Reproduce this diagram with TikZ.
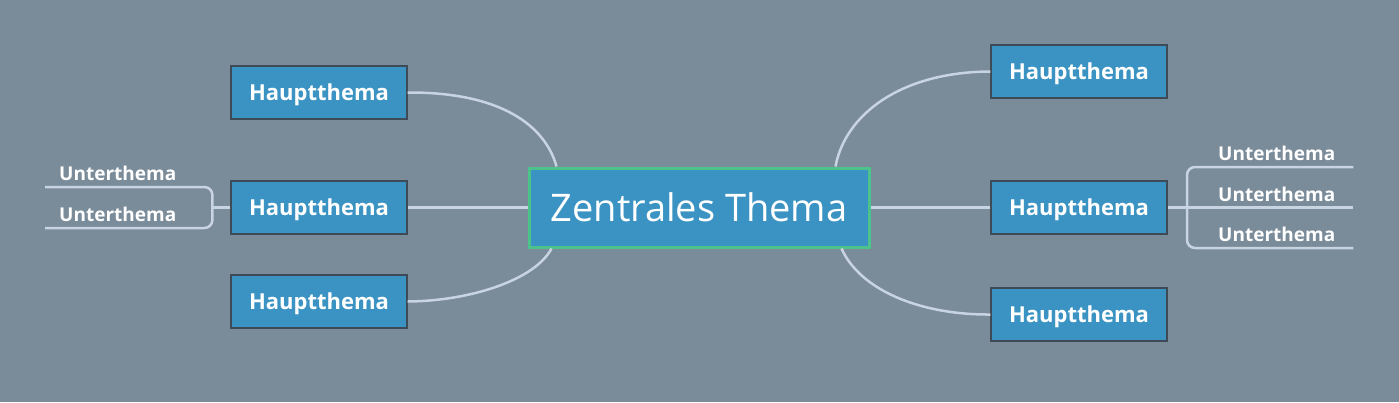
\documentclass[tikz,border=0pt]{standalone}
\usepackage{fontspec}
\setmainfont{Open Sans}
\usetikzlibrary{positioning,calc}
\definecolor{slatebg}{RGB}{122,139,153}
\definecolor{nodeblue}{RGB}{58,147,194}
\definecolor{boxedge}{RGB}{62,74,85}
\definecolor{centeredge}{RGB}{76,195,138}
\definecolor{linkgray}{RGB}{201,212,226}

\begin{document}
\begin{tikzpicture}[x=1pt, y=-1pt,
    topic/.style={draw=boxedge, line width=1.2pt, fill=nodeblue, text=white, minimum width=176pt, minimum height=53pt, inner sep=0pt, text depth=0pt, font=\bfseries\fontsize{22}{26}\selectfont},
    mainbox/.style={draw=centeredge, line width=3pt, fill=nodeblue, text=white, minimum width=340pt, minimum height=79pt, inner sep=0pt, font=\fontsize{38}{46}\selectfont},
    sub/.style={text=white, text width=167pt, align=left, inner xsep=0pt, inner ysep=6pt, anchor=south west, font=\bfseries\fontsize{19}{23}\selectfont, execute at begin node={\hspace*{#1}}},
    link/.style={draw=linkgray, line width=2.5pt}
]
\fill[slatebg] (0,0) rectangle (1399,402);

% center and main topics
\node[mainbox] (C) at (699,207.5) {Zentrales Thema};
\node[topic] (L1) at (319,92.5) {Hauptthema};
\node[topic] (L2) at (319,207.5) {Hauptthema};
\node[topic] (L3) at (319,301.5) {Hauptthema};
\node[topic] (R1) at (1079,71.5) {Hauptthema};
\node[topic] (R2) at (1079,207.5) {Hauptthema};
\node[topic] (R3) at (1079,314.5) {Hauptthema};

% subtopics
\node[sub=14pt] (ul1) at (45,187) {Unterthema};
\node[sub=14pt] (ul2) at (45,228) {Unterthema};
\node[sub=31pt, text width=166pt] (ur1) at (1187,167) {Unterthema};
\node[sub=31pt, text width=166pt] (ur2) at (1187,207.5) {Unterthema};
\node[sub=31pt, text width=166pt] (ur3) at (1187,248) {Unterthema};

% links
\draw[link] (L1.east) .. controls (500,92) and (545,125) .. ($(C.north west)+(29,0)$);
\draw[link] (L2.east) -- (C.west);
\draw[link] (L3.east) .. controls (470,301) and (535,280) .. ($(C.south west)+(24,0)$);
\draw[link] ($(C.north east)+(-35,0)$) .. controls (845,115) and (900,72) .. (R1.west);
\draw[link] (C.east) -- (R2.west);
\draw[link] ($(C.south east)+(-29,0)$) .. controls (860,290) and (920,315) .. (R3.west);

% brackets
\draw[link] (L2.west) -- (L2.west -| ul1.south east);
\draw[link, rounded corners=8pt] (ul1.south west) -- (ul1.south east) -- (ul2.south east) -- (ul2.south west);
\draw[link] (R2.east) -- (ur2.south west) -- (ur2.south east);
\draw[link, rounded corners=8pt] (ur1.south east) -- (ur1.south west) -- (ur3.south west) -- (ur3.south east);
\end{tikzpicture}
\end{document}
